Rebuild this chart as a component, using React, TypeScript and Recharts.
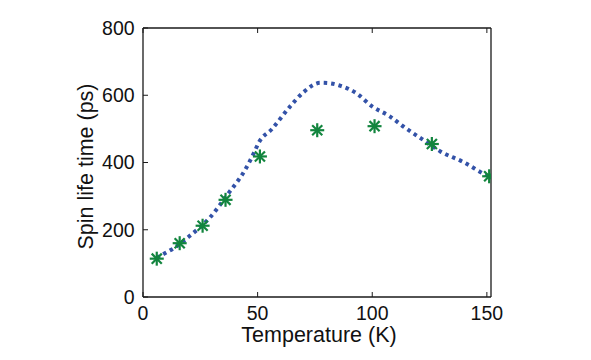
import { ComposedChart, Line, Scatter, XAxis, YAxis } from 'recharts';

// measured spin lifetimes (stars)
const temps = [6, 16, 26, 36, 51, 76, 101, 126, 151];
const measured = [114, 160, 212, 289, 418, 496, 508, 455, 359];

// model curve (dotted)
const curveT = [6, 9, 13.4, 19.9, 29.4, 36.9, 44.6, 48.5, 50.4, 56.3, 64.2, 70, 77.3, 81, 85.7, 93.3, 99.9, 107.5, 114.4, 121.4, 129.7, 139.8, 148.5, 151];
const curveTau = [116, 128, 145, 179, 238, 305, 379, 430, 458, 500, 567, 609, 637, 636, 629, 605, 567, 538, 503, 471, 433, 401, 367, 358];

const xTicks = [0, 50, 100, 150];
const yTicks = [0, 200, 400, 600, 800];

const starData = temps.map((t, i) => ({ t, tau: measured[i] }));
const curveData = curveT.map((t, i) => ({ t, tau: curveTau[i] }));

const FONT = '"Liberation Sans", Arial, Helvetica, sans-serif';

const Star = (props: any) => {
  const { cx, cy } = props;
  const r = 7;
  const d = r * 0.72;
  return (
    <g stroke="#12853e" strokeWidth={2.2}>
      <line x1={cx - r} y1={cy} x2={cx + r} y2={cy} />
      <line x1={cx} y1={cy - r} x2={cx} y2={cy + r} />
      <line x1={cx - d} y1={cy - d} x2={cx + d} y2={cy + d} />
      <line x1={cx - d} y1={cy + d} x2={cx + d} y2={cy - d} />
    </g>
  );
};

const tickStyle = { fill: '#111', fontSize: 19.5, fontFamily: FONT };

export default function App() {
  return (
    <div style={{ position: 'absolute', left: 0, top: 0, background: '#fff' }}>
      <ComposedChart
        width={591}
        height={360}
        margin={{ top: 27, right: 96, bottom: 0, left: 0 }}
      >
        <XAxis
          xAxisId={0}
          dataKey="t"
          type="number"
          domain={[0, 151.8]}
          ticks={xTicks}
          allowDataOverflow
          height={63}
          tickSize={-5}
          tickMargin={14.5}
          axisLine={{ stroke: '#1a1a1a', strokeWidth: 1.3 }}
          tickLine={{ stroke: '#1a1a1a' }}
          tick={tickStyle}
          label={{
            content: (p: any) => {
              const vb = p.viewBox;
              return (
                <text x={vb.x + vb.width / 2 + 2} y={342} textAnchor="middle" fontSize={21.5} fontFamily={FONT} fill="#111">
                  Temperature (K)
                </text>
              );
            },
          }}
        />
        <XAxis
          xAxisId="top"
          dataKey="t"
          type="number"
          orientation="top"
          domain={[0, 151.8]}
          ticks={xTicks}
          allowDataOverflow
          height={1}
          tickSize={-5}
          tickFormatter={() => ''}
          axisLine={{ stroke: '#1a1a1a', strokeWidth: 1.3 }}
          tickLine={{ stroke: '#1a1a1a' }}
        />
        <YAxis
          yAxisId={0}
          type="number"
          domain={[0, 800]}
          ticks={yTicks}
          width={143}
          tickSize={-5}
          tickMargin={13.4}
          axisLine={{ stroke: '#1a1a1a', strokeWidth: 1.3 }}
          tickLine={{ stroke: '#1a1a1a' }}
          tick={tickStyle}
          label={{
            content: (p: any) => {
              const vb = p.viewBox;
              const cy = vb.y + vb.height / 2 + 4;
              return (
                <text x={93} y={cy} transform={`rotate(-90 93 ${cy})`} textAnchor="middle" fontSize={21.5} fontFamily={FONT} fill="#111">
                  Spin life time (ps)
                </text>
              );
            },
          }}
        />
        <YAxis
          yAxisId="right"
          orientation="right"
          type="number"
          domain={[0, 800]}
          ticks={yTicks}
          width={4}
          tickSize={-5}
          tickFormatter={() => ''}
          axisLine={{ stroke: '#1a1a1a', strokeWidth: 1.3 }}
          tickLine={{ stroke: '#1a1a1a' }}
        />
        <Line
          xAxisId={0}
          yAxisId={0}
          data={curveData}
          dataKey="tau"
          type="monotone"
          stroke="#3352a8"
          strokeWidth={4}
          strokeDasharray="3.5 4"
          dot={false}
          activeDot={false}
          isAnimationActive={false}
        />
        <Scatter
          xAxisId={0}
          yAxisId={0}
          data={starData}
          dataKey="tau"
          shape={<Star />}
          isAnimationActive={false}
        />
      </ComposedChart>
    </div>
  );
}
